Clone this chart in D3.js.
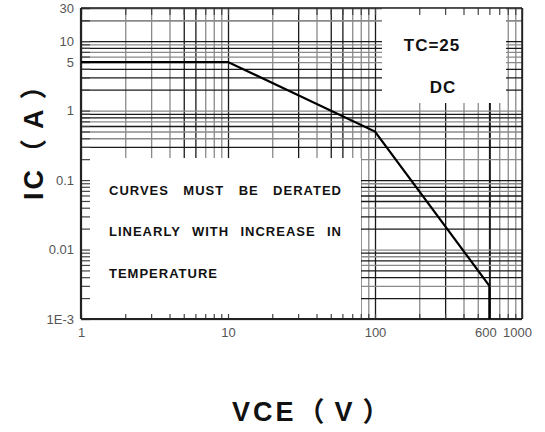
<!DOCTYPE html>
<html>
<head>
<meta charset="utf-8">
<script src="https://cdn.jsdelivr.net/npm/d3@7"></script>
<style>
  html, body { margin: 0; padding: 0; background: #fff; }
  svg { display: block; }
  text { font-family: "Liberation Sans", Arial, "Noto Sans CJK SC", sans-serif; }
</style>
</head>
<body>
<svg id="chart" width="545" height="432"></svg>
<script>
// ---- data ----
const vce = [1, 10, 100, 600, 600];
const ic = [5, 5, 0.5, 0.003, 0.001];

const xTickValues = [1, 10, 100, 600, 1000];
const xTickLabels = ["1", "10", "100", "600", "1000"];
const yTickValues = [30, 10, 5, 1, 0.1, 0.01, 0.001];
const yTickLabels = ["30", "10", "5", "1", "0.1", "0.01", "1E-3"];

const xTitle = "VCE（V）";
const yTitle = "IC（A）";
const noteTop = ["TC=25", "DC"];
const noteBox = ["CURVES MUST BE DERATED", "LINEARLY WITH INCREASE IN", "TEMPERATURE"];

// grid values (log minor ticks)
const xGrid = [];
[1, 10, 100].forEach(d => { for (let k = 1; k <= 9; k++) xGrid.push(d * k); });
xGrid.push(1000);
const yGrid = [];
[0.001, 0.01, 0.1, 1, 10].forEach(d => { for (let k = 1; k <= 9; k++) { const v = +(d * k).toPrecision(3); if (v <= 30) yGrid.push(v); } });
yGrid.push(20, 30);

const xDark = [5, 6, 10, 30, 50, 60, 100, 300, 600, 1000];
const yDark = [10, 8, 4, 3, 2, 0.9, 0.8, 0.6, 0.3, 0.1, 0.08, 0.06, 0.05, 0.03, 0.02, 0.009, 0.007, 0.005, 0.004, 0.002];

// ---- layout ----
const L = 81, R = 522, T = 8, B = 319;
const svg = d3.select("#chart");
const x = d3.scaleLog().domain([1, 1000]).range([L, R]);
const y = d3.scaleLog().domain([0.001, 30]).range([B, T]);

const isDark = (arr, v) => arr.some(a => Math.abs(a - v) / a < 1e-6);

// full grid
const gx = svg.append("g").attr("transform", `translate(0,${B})`)
  .call(d3.axisBottom(x).tickValues(xGrid).tickSize(-(B - T)).tickFormat(""));
gx.select(".domain").remove();
gx.selectAll(".tick line")
  .attr("stroke", d => isDark(xDark, d) ? "#1a1a1a" : "#8a8a8a")
  .attr("stroke-width", d => d === 600 ? 2 : 1.3);

const gy = svg.append("g").attr("transform", `translate(${L},0)`)
  .call(d3.axisLeft(y).tickValues(yGrid).tickSize(-(R - L)).tickFormat(""));
gy.select(".domain").remove();
gy.selectAll(".tick line")
  .attr("stroke", d => isDark(yDark, d) ? "#1a1a1a" : "#8a8a8a")
  .attr("stroke-width", 1.3);

// white boxes covering grid
svg.append("rect").attr("x", L).attr("y", 158).attr("width", 361 - L).attr("height", B - 158).attr("fill", "#fff");
svg.append("rect").attr("x", 382).attr("y", T).attr("width", 506 - 382).attr("height", 103 - T).attr("fill", "#fff");

// inner ticks on the axes (drawn over boxes)
const tl = svg.append("g").attr("transform", `translate(${L},0)`)
  .call(d3.axisRight(y).tickValues(yGrid).tickSize(9).tickFormat(""));
tl.select(".domain").remove();
tl.selectAll(".tick line").attr("stroke", "#444").attr("stroke-width", 1.2);

const tb = svg.append("g").attr("transform", `translate(0,${B})`)
  .call(d3.axisTop(x).tickValues(xGrid).tickSize(5).tickFormat(""));
tb.select(".domain").remove();
tb.selectAll(".tick line").attr("stroke", "#444").attr("stroke-width", 1.2);

const tt = svg.append("g").attr("transform", `translate(0,${T})`)
  .call(d3.axisBottom(x).tickValues(xGrid).tickSize(7).tickFormat(""));
tt.select(".domain").remove();
tt.selectAll(".tick line").attr("stroke", "#444").attr("stroke-width", 1.2);

// plot frame
svg.append("line").attr("x1", L).attr("x2", L).attr("y1", T).attr("y2", B).attr("stroke", "#222").attr("stroke-width", 2.2);
svg.append("line").attr("x1", L).attr("x2", R).attr("y1", B).attr("y2", B).attr("stroke", "#222").attr("stroke-width", 2.2);
svg.append("line").attr("x1", L).attr("x2", R).attr("y1", T).attr("y2", T).attr("stroke", "#222").attr("stroke-width", 1.5);
svg.append("line").attr("x1", R).attr("x2", R).attr("y1", T).attr("y2", B).attr("stroke", "#222").attr("stroke-width", 1.5);

// data line
const line = d3.line().x((d, i) => x(vce[i])).y((d, i) => y(ic[i]));
svg.append("path").datum(vce).attr("d", line)
  .attr("fill", "none").attr("stroke", "#000").attr("stroke-width", 2.2).attr("stroke-linejoin", "miter");

// tick labels
const yl = svg.append("g").attr("transform", `translate(${L - 7},0)`)
  .call(d3.axisLeft(y).tickValues(yTickValues).tickSize(0)
    .tickFormat((d, i) => yTickLabels[i]));
yl.select(".domain").remove();
yl.selectAll("text").attr("font-size", 13).attr("fill", "#555").attr("x", 0)
  .attr("font-family", "'Liberation Sans', Arial, sans-serif");

const xLabelShift = { 600: -4, 1000: -5 };
const xl = svg.append("g").attr("transform", `translate(0,${B + 6})`)
  .call(d3.axisBottom(x).tickValues(xTickValues).tickSize(0)
    .tickFormat((d, i) => xTickLabels[i]));
xl.select(".domain").remove();
xl.selectAll("text").attr("font-size", 13).attr("fill", "#555")
  .attr("font-family", "'Liberation Sans', Arial, sans-serif")
  .attr("dx", d => xLabelShift[d] || 0);

// annotations
svg.append("text").text(noteTop[0]).attr("x", 432).attr("y", 51)
  .attr("text-anchor", "middle").attr("font-size", 17).attr("font-weight", "bold")
  .attr("letter-spacing", 1).attr("fill", "#111");
svg.append("text").text(noteTop[1]).attr("x", 443).attr("y", 93)
  .attr("text-anchor", "middle").attr("font-size", 17).attr("font-weight", "bold")
  .attr("letter-spacing", 1).attr("fill", "#111");

const boxY = [195, 236, 278];
noteBox.forEach((t, i) => {
  const el = svg.append("text").text(t).attr("x", 109).attr("y", boxY[i])
    .attr("font-size", 13).attr("font-weight", "bold").attr("fill", "#111")
    .attr("letter-spacing", 1);
  if (i < 2) {
    const words = t.split(" ").length;
    const len = el.node().getComputedTextLength();
    el.attr("word-spacing", Math.max(0, (233 - len) / (words - 1)));
  }
});

// axis titles: split into latin part and bracketed unit, with extra gaps
function title(sel, str) {
  const m = str.match(/^(.*?)（(.*)）$/);
  sel.append("tspan").text(m[1]);
  sel.append("tspan").text("（").attr("dx", 1);
  sel.append("tspan").text(m[2]).attr("dx", 7);
  sel.append("tspan").text("）").attr("dx", 7);
}
const xt = svg.append("text").attr("x", 232).attr("y", 421)
  .attr("font-size", 27).attr("font-weight", "bold")
  .attr("letter-spacing", 3).attr("fill", "#111");
title(xt, xTitle);
const yt = svg.append("text")
  .attr("transform", "translate(43,200) rotate(-90)")
  .attr("font-size", 27).attr("font-weight", "bold")
  .attr("letter-spacing", 3).attr("fill", "#111");
title(yt, yTitle);
</script>
</body>
</html>
